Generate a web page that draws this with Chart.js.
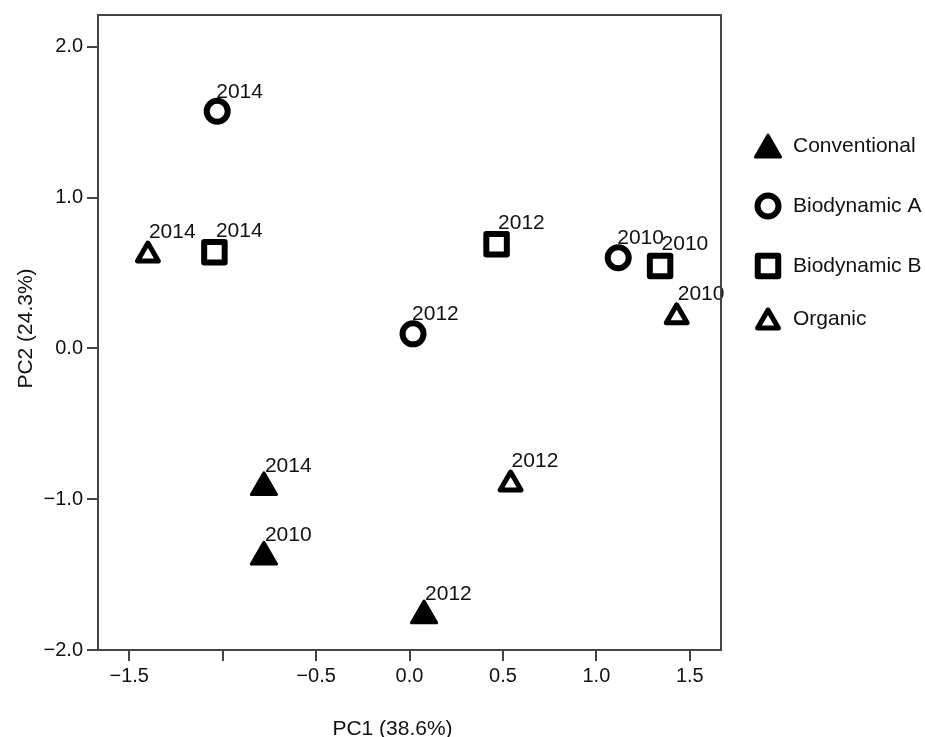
<!DOCTYPE html>
<html>
<head>
<meta charset="utf-8">
<script src="https://cdn.jsdelivr.net/npm/chart.js@4.4.1/dist/chart.umd.min.js"></script>
<style>
  html, body { margin: 0; padding: 0; background: #fff; }
  canvas { display: block; }
</style>
</head>
<body>
<canvas id="c" width="925" height="737"></canvas>
<script>
// ---- Data ----
const groups = ['Conventional', 'Biodynamic A', 'Biodynamic B', 'Organic'];

const convYears = ['2014', '2010', '2012'];
const convX = [-0.779, -0.779, 0.078];
const convY = [-0.921, -1.382, -1.772];

const bioAYears = ['2014', '2012', '2010'];
const bioAX = [-1.029, 0.019, 1.117];
const bioAY = [1.572, 0.096, 0.601];

const bioBYears = ['2014', '2012', '2010'];
const bioBX = [-1.044, 0.466, 1.341];
const bioBY = [0.637, 0.690, 0.546];

const orgYears = ['2014', '2012', '2010'];
const orgX = [-1.400, 0.541, 1.430];
const orgY = [0.618, -0.900, 0.209];

const xTickValues = [-1.5, -1.0, -0.5, 0.0, 0.5, 1.0, 1.5];
const xTickLabels = ['\u22121.5', '', '\u22120.5', '0.0', '0.5', '1.0', '1.5'];
const yTickValues = [-2, -1, 0, 1, 2];
const yTickLabels = ['\u22122.0', '\u22121.0', '0.0', '1.0', '2.0'];

const xTitle = 'PC1 (38.6%)';
const yTitle = 'PC2 (24.3%)';

// ---- Helpers ----
const FONT = "'Liberation Sans', Arial, Helvetica, sans-serif";
const toPts = (xs, ys) => xs.map((x, i) => ({ x: x, y: ys[i] }));
const labelFor = (vals, labels) => (v) => {
  const i = vals.findIndex(t => Math.abs(t - v) < 1e-9);
  return i >= 0 ? labels[i] : '';
};

const datasets = [
  { label: groups[0], data: toPts(convX, convY), years: convYears,
    pointStyle: 'triangle', pointRadius: 14.5, pointBorderWidth: 3,
    pointBackgroundColor: '#000', pointBorderColor: '#000', labelDx: 1, labelDy: -15.5 },
  { label: groups[1], data: toPts(bioAX, bioAY), years: bioAYears,
    pointStyle: 'circle', pointRadius: 10.5, pointBorderWidth: 6,
    pointBackgroundColor: '#fff', pointBorderColor: '#000', labelDx: -1, labelDy: -13.5 },
  { label: groups[2], data: toPts(bioBX, bioBY), years: bioBYears,
    pointStyle: 'rect', pointRadius: 14.5, pointBorderWidth: 6,
    pointBackgroundColor: '#fff', pointBorderColor: '#000', labelDx: 1.5, labelDy: -15.5 },
  { label: groups[3], data: toPts(orgX, orgY), years: orgYears,
    pointStyle: 'triangle', pointRadius: 12, pointBorderWidth: 5,
    pointBackgroundColor: '#fff', pointBorderColor: '#000', labelDx: 1, labelDy: -17 }
];
datasets.forEach(d => { d.showLine = false; d.pointHoverRadius = d.pointRadius; });

const roundJoin = {
  id: 'roundJoin',
  beforeDatasetsDraw(chart) { chart.ctx.lineJoin = 'round'; }
};

const yearLabels = {
  id: 'yearLabels',
  afterDatasetsDraw(chart) {
    const ctx = chart.ctx;
    ctx.save();
    ctx.font = '21px ' + FONT;
    ctx.fillStyle = '#111';
    ctx.textAlign = 'left';
    ctx.textBaseline = 'alphabetic';
    chart.data.datasets.forEach((ds, di) => {
      chart.getDatasetMeta(di).data.forEach((el, i) => {
        ctx.fillText(ds.years[i], el.x + ds.labelDx, el.y + ds.labelDy);
      });
    });
    ctx.restore();
  }
};

const frameAndText = {
  id: 'frameAndText',
  afterDraw(chart) {
    const ctx = chart.ctx;
    const a = chart.chartArea;
    ctx.save();
    // frame
    ctx.strokeStyle = '#444';
    ctx.lineWidth = 2;
    ctx.strokeRect(a.left, a.top, a.right - a.left, a.bottom - a.top);
    // axis titles
    ctx.fillStyle = '#111';
    ctx.font = '21px ' + FONT;
    ctx.textAlign = 'center';
    ctx.textBaseline = 'alphabetic';
    ctx.fillText(xTitle, (a.left + a.right) / 2 - 17, 735);
    ctx.save();
    ctx.translate(31.5, (a.top + a.bottom) / 2 - 4);
    ctx.rotate(-Math.PI / 2);
    ctx.fillText(yTitle, 0, 0);
    ctx.restore();
    // legend
    const rows = [146, 206, 266, 319];
    const sx = a.right + 47;
    ctx.lineJoin = 'round';
    chart.data.datasets.forEach((ds, i) => {
      ctx.fillStyle = ds.pointBackgroundColor;
      ctx.strokeStyle = ds.pointBorderColor;
      ctx.lineWidth = ds.pointBorderWidth;
      const cy = rows[i] + (ds.pointStyle === 'triangle' ? ds.pointRadius / 4 : 0);
      Chart.helpers.drawPoint(ctx, { pointStyle: ds.pointStyle, radius: ds.pointRadius, borderWidth: ds.pointBorderWidth, rotation: 0 }, sx, cy);
      ctx.fillStyle = '#111';
      ctx.font = '21px ' + FONT;
      ctx.textAlign = 'left';
      ctx.textBaseline = 'middle';
      ctx.fillText(ds.label, a.right + 72, rows[i]);
    });
    ctx.restore();
  }
};

new Chart(document.getElementById('c'), {
  type: 'scatter',
  data: { datasets: datasets },
  options: {
    responsive: false,
    animation: false,
    events: [],
    layout: { autoPadding: false, padding: { left: 0, top: 15, right: 204, bottom: 0 } },
    plugins: { legend: { display: false }, tooltip: { enabled: false } },
    scales: {
      x: {
        type: 'linear', position: 'bottom', min: -1.667, max: 1.667,
        afterBuildTicks: s => { s.ticks = xTickValues.map(v => ({ value: v })); },
        afterFit: s => { s.height = 87; s.paddingLeft = 0; s.paddingRight = 0; },
        ticks: { autoSkip: false, maxRotation: 0, minRotation: 0, padding: 3, color: '#111',
                 font: { family: FONT, size: 20 }, callback: labelFor(xTickValues, xTickLabels) },
        grid: { drawOnChartArea: false, drawTicks: true, tickLength: 11, color: '#444', lineWidth: 2 },
        border: { display: true, color: '#444', width: 2 },
        title: { display: false }
      },
      y: {
        type: 'linear', position: 'left', min: -2.0, max: 2.21,
        afterBuildTicks: s => { s.ticks = yTickValues.map(v => ({ value: v })); },
        afterFit: s => { s.width = 98; s.paddingTop = 0; s.paddingBottom = 0; },
        ticks: { autoSkip: false, padding: 4, color: '#111',
                 font: { family: FONT, size: 20 }, callback: labelFor(yTickValues, yTickLabels) },
        grid: { drawOnChartArea: false, drawTicks: true, tickLength: 11, color: '#444', lineWidth: 2 },
        border: { display: true, color: '#444', width: 2 },
        title: { display: false }
      }
    }
  },
  plugins: [roundJoin, yearLabels, frameAndText]
});
</script>
</body>
</html>
